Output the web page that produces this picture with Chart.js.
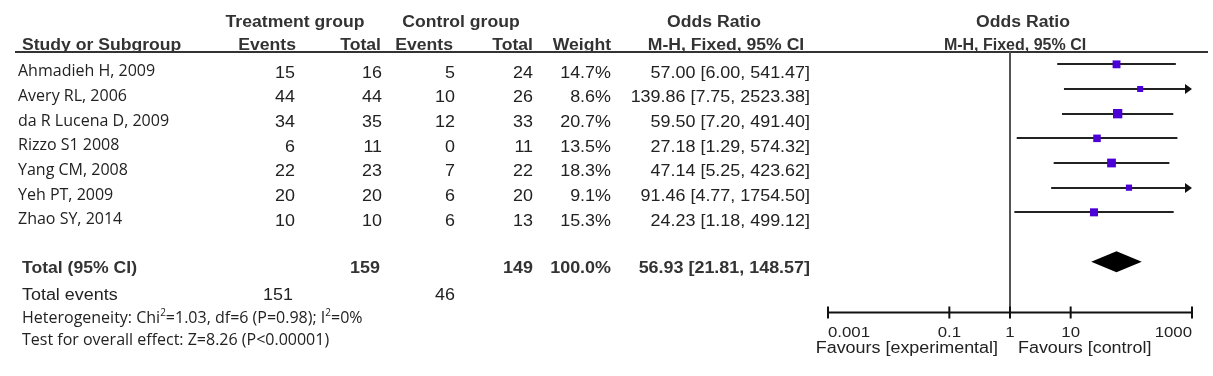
<!DOCTYPE html>
<html>
<head>
<meta charset="utf-8">
<script src="https://cdn.jsdelivr.net/npm/chart.js@4.4.1/dist/chart.umd.min.js"></script>
<style>
  html, body { margin: 0; padding: 0; background: #fff; }
  canvas { display: block; }
</style>
</head>
<body>
<canvas id="forest" width="1213" height="376"></canvas>
<script>
// study data
var studies = ['Ahmadieh H, 2009', 'Avery RL, 2006', 'da R Lucena D, 2009', 'Rizzo S1 2008', 'Yang CM, 2008', 'Yeh PT, 2009', 'Zhao SY, 2014'];
var trtEvents = [15, 44, 34, 6, 22, 20, 10];
var trtTotal = [16, 44, 35, 11, 23, 20, 10];
var ctlEvents = [5, 10, 12, 0, 7, 6, 6];
var ctlTotal = [24, 26, 33, 11, 22, 20, 13];
var weights = [14.7, 8.6, 20.7, 13.5, 18.3, 9.1, 15.3];
var oddsRatio = [57.00, 139.86, 59.50, 27.18, 47.14, 91.46, 24.23];
var ciLow = [6.00, 7.75, 7.20, 1.29, 5.25, 4.77, 1.18];
var ciHigh = [541.47, 2523.38, 491.40, 574.32, 423.62, 1754.50, 499.12];

// pooled result
var totalN = [159, 149];
var totalEvents = [151, 46];
var totalWeight = 100.0;
var totalOR = [56.93, 21.81, 148.57];

var axisTicks = [0.001, 0.1, 1, 10, 1000];
var axisLabels = ['0.001', '0.1', '1', '10', '1000'];

var TXT = '#222';
var ARIAL = '"Liberation Sans", Arial, sans-serif';
var MYRIAD = '"Open Sans", sans-serif';
var SX = 1.12;

function txt(ctx, s, x, y, align, font, sx, color) {
  ctx.save();
  ctx.font = font;
  ctx.fillStyle = color || TXT;
  ctx.translate(x, y);
  ctx.scale(sx || 1, 1);
  ctx.textAlign = align;
  ctx.textBaseline = 'alphabetic';
  ctx.fillText(s, 0, 0);
  ctx.restore();
}

function fmt(v) { return v.toFixed(2); }

// text with superscripts: parts = [[text, isSup], ...]
function richText(ctx, parts, x, y, size) {
  ctx.save();
  ctx.fillStyle = TXT;
  ctx.textAlign = 'left';
  ctx.textBaseline = 'alphabetic';
  parts.forEach(function (p) {
    ctx.font = (p[1] ? Math.round(size * 0.62) : size) + 'px ' + MYRIAD;
    ctx.fillText(p[0], x, p[1] ? y - size * 0.42 : y);
    x += ctx.measureText(p[0]).width;
  });
  ctx.restore();
}

var forestPlugin = {
  id: 'forest',
  beforeDatasetsDraw: function (chart) {
    var ctx = chart.ctx, xs = chart.scales.x, ys = chart.scales.y, area = chart.chartArea;
    var xMin = xs.getPixelForValue(axisTicks[0]);
    var xMax = xs.getPixelForValue(axisTicks[axisTicks.length - 1]);
    var x1 = xs.getPixelForValue(1);
    var axisY = area.bottom + 1.5;
    ctx.save();
    // header rule
    ctx.strokeStyle = '#333';
    ctx.lineWidth = 2;
    ctx.beginPath();
    ctx.moveTo(15, area.top);
    ctx.lineTo(1208, area.top);
    ctx.stroke();
    // line of no effect
    ctx.strokeStyle = '#555';
    ctx.beginPath();
    ctx.moveTo(x1, area.top);
    ctx.lineTo(x1, axisY);
    ctx.stroke();
    // confidence intervals
    ctx.strokeStyle = '#222';
    ctx.fillStyle = '#111';
    for (var i = 0; i < studies.length; i++) {
      var y = Math.round(ys.getPixelForValue(i));
      var a = Math.max(xs.getPixelForValue(ciLow[i]), xMin);
      var b = Math.min(xs.getPixelForValue(ciHigh[i]), xMax);
      var clipped = ciHigh[i] > axisTicks[axisTicks.length - 1];
      ctx.beginPath();
      ctx.moveTo(a, y);
      ctx.lineTo(clipped ? b - 6 : b, y);
      ctx.stroke();
      if (clipped) {
        ctx.beginPath();
        ctx.moveTo(b, y);
        ctx.lineTo(b - 7, y - 5);
        ctx.lineTo(b - 7, y + 5);
        ctx.closePath();
        ctx.fill();
      }
    }
    // pooled diamond
    var yd = ys.getPixelForValue(studies.length + 1);
    ctx.fillStyle = '#000';
    ctx.beginPath();
    ctx.moveTo(xs.getPixelForValue(totalOR[1]), yd);
    ctx.lineTo(xs.getPixelForValue(totalOR[0]), yd - 10.5);
    ctx.lineTo(xs.getPixelForValue(totalOR[2]), yd);
    ctx.lineTo(xs.getPixelForValue(totalOR[0]), yd + 10.5);
    ctx.closePath();
    ctx.fill();
    // x axis
    ctx.strokeStyle = '#111';
    ctx.lineWidth = 2;
    ctx.beginPath();
    ctx.moveTo(xMin, axisY);
    ctx.lineTo(xMax, axisY);
    axisTicks.forEach(function (t) {
      var tx = xs.getPixelForValue(t);
      ctx.moveTo(tx, axisY - 6);
      ctx.lineTo(tx, axisY + 6);
    });
    ctx.stroke();
    ctx.restore();
    var tickFont = '15px ' + ARIAL;
    axisTicks.forEach(function (t, k) {
      var al = k === 0 ? 'left' : (k === axisTicks.length - 1 ? 'right' : 'center');
      txt(ctx, axisLabels[k], xs.getPixelForValue(t), area.bottom + 26, al, tickFont, SX);
    });
    txt(ctx, 'Favours [experimental]', x1 - 12, area.bottom + 42, 'right', '16px ' + ARIAL, SX);
    txt(ctx, 'Favours [control]', x1 + 8, area.bottom + 42, 'left', '16px ' + ARIAL, SX);
  },
  afterDraw: function (chart) {
    var ctx = chart.ctx, ys = chart.scales.y;
    var bold = 'bold 16px ' + ARIAL, reg = '16px ' + ARIAL, name = '16px ' + MYRIAD;
    var H = '#333';
    // headers
    txt(ctx, 'Treatment group', 295, 26.5, 'center', bold, 1.1, H);
    txt(ctx, 'Control group', 461, 26.5, 'center', bold, 1.1, H);
    txt(ctx, 'Odds Ratio', 714, 26.5, 'center', bold, 1.1, H);
    txt(ctx, 'Odds Ratio', 1023, 26.5, 'center', bold, 1.1, H);
    txt(ctx, 'Study or Subgroup', 22, 50, 'left', bold, 1.1, H);
    txt(ctx, 'Events', 296, 50, 'right', bold, 1.1, H);
    txt(ctx, 'Total', 381, 50, 'right', bold, 1.1, H);
    txt(ctx, 'Events', 453, 50, 'right', bold, 1.1, H);
    txt(ctx, 'Total', 533, 50, 'right', bold, 1.1, H);
    txt(ctx, 'Weight', 611, 50, 'right', bold, 1.1, H);
    txt(ctx, 'M-H, Fixed, 95% CI', 726, 50, 'center', bold, 1.1, H);
    txt(ctx, 'M-H, Fixed, 95% CI', 1015, 50, 'center', bold, 1.0, H);
    // study rows
    for (var i = 0; i < studies.length; i++) {
      var y = ys.getPixelForValue(i);
      txt(ctx, studies[i], 18, y + 12, 'left', name, 1);
      txt(ctx, String(trtEvents[i]), 295, y + 13.3, 'right', reg, SX);
      txt(ctx, String(trtTotal[i]), 382, y + 13.3, 'right', reg, SX);
      txt(ctx, String(ctlEvents[i]), 455, y + 13.3, 'right', reg, SX);
      txt(ctx, String(ctlTotal[i]), 533, y + 13.3, 'right', reg, SX);
      txt(ctx, weights[i].toFixed(1) + '%', 611, y + 13.3, 'right', reg, SX);
      txt(ctx, fmt(oddsRatio[i]) + ' [' + fmt(ciLow[i]) + ', ' + fmt(ciHigh[i]) + ']', 810, y + 13.3, 'right', reg, SX);
    }
    // total rows
    var yt = ys.getPixelForValue(studies.length + 1);
    txt(ctx, 'Total (95% CI)', 22, yt + 11.5, 'left', bold, 1.1, H);
    txt(ctx, String(totalN[0]), 380, yt + 11.5, 'right', bold, SX, H);
    txt(ctx, String(totalN[1]), 533, yt + 11.5, 'right', bold, SX, H);
    txt(ctx, totalWeight.toFixed(1) + '%', 611, yt + 11.5, 'right', bold, SX, H);
    txt(ctx, fmt(totalOR[0]) + ' [' + fmt(totalOR[1]) + ', ' + fmt(totalOR[2]) + ']', 810, yt + 11.5, 'right', bold, SX, H);
    var ye = ys.getPixelForValue(studies.length + 2);
    txt(ctx, 'Total events', 22, ye + 13.3, 'left', reg, SX);
    txt(ctx, String(totalEvents[0]), 293, ye + 13.3, 'right', reg, SX);
    txt(ctx, String(totalEvents[1]), 455, ye + 13.3, 'right', reg, SX);
    var yh = ys.getPixelForValue(studies.length + 3);
    richText(ctx, [['Heterogeneity: Chi', 0], ['2', 1], ['=1.03, df=6 (P=0.98); I', 0], ['2', 1], ['=0%', 0]], 22, yh + 12, 16);
    var yz = ys.getPixelForValue(studies.length + 3.9);
    richText(ctx, [['Test for overall effect: Z=8.26 (P<0.00001)', 0]], 22, yz + 12, 16);
  }
};

var ctx = document.getElementById('forest');
new Chart(ctx, {
  type: 'scatter',
  data: {
    datasets: [{
      data: oddsRatio.map(function (v, i) { return { x: v, y: i }; }),
      pointStyle: 'rect',
      pointRadius: weights.map(function (w) { return 2.05 * Math.sqrt(w) / Math.SQRT2; }),
      backgroundColor: '#4b00d6',
      borderWidth: 0
    }]
  },
  options: {
    responsive: false,
    devicePixelRatio: 1,
    animation: false,
    events: [],
    layout: { padding: { left: 828, right: 21, top: 52, bottom: 65 } },
    scales: {
      x: { type: 'logarithmic', min: 0.001, max: 1000, display: false },
      y: { type: 'linear', reverse: true, min: -0.5, max: 10, display: false }
    },
    plugins: { legend: { display: false }, tooltip: { enabled: false } }
  },
  plugins: [forestPlugin]
});
</script>
</body>
</html>
